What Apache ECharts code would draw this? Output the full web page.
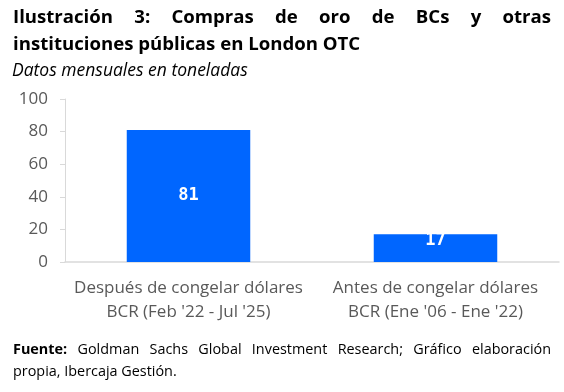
<!DOCTYPE html>
<html><head><meta charset="utf-8">
<script src="https://cdn.jsdelivr.net/npm/echarts@6/dist/echarts.min.js"></script>
<style>html,body{margin:0;padding:0;background:#fff}#c{width:564px;height:392px}</style>
</head><body><div id="c"></div>
<script>
const categories = ['Después de congelar dólares\nBCR (Feb \'22 - Jul \'25)', 'Antes de congelar dólares\nBCR (Ene \'06 - Ene \'22)'];
const values = [81, 17];
const yTicks = [0, 20, 40, 60, 80, 100];
const titleLine1 = 'Ilustración 3: Compras de oro de BCs y otras';
const titleLine2 = 'instituciones públicas en London OTC';
const subtitle = 'Datos mensuales en toneladas';
const sourceLabel = 'Fuente:';
const sourceLine1 = 'Goldman Sachs Global Investment Research; Gráfico elaboración';
const sourceLine2 = 'propia, Ibercaja Gestión.';

const ctx = document.createElement('canvas').getContext('2d');
function measure(t, font){ ctx.font = font; return ctx.measureText(t).width; }
function justify(words, x0, x1, y, font, style){
  const ws = words.map(w => measure(w.t, w.font || font));
  const total = ws.reduce((a,b)=>a+b,0);
  const gap = (x1 - x0 - total) / (words.length - 1);
  let x = x0; const out = [];
  words.forEach((w,i)=>{
    out.push({type:'text', left:x, top:y, style:Object.assign({text:w.t, font:w.font||font}, style)});
    x += ws[i] + gap;
  });
  return out;
}
const tFont = 'bold 18.6px "Open Sans"';
const sFont = '14.4px "Open Sans"';
const sBold = 'bold 14.4px "Open Sans"';
let graphics = [];
graphics = graphics.concat(justify(titleLine1.split(' ').map(t=>({t})), 13, 551, 8, tFont, {fill:'#000'}));
graphics.push({type:'text', left:13, top:35, style:{text:titleLine2, font:tFont, fill:'#000'}});
graphics.push({type:'text', left:12, top:62, style:{text:subtitle, font:'italic 17.5px "Open Sans"', fill:'#000'}});
const srcWords = [{t:sourceLabel, font:sBold}].concat(sourceLine1.split(' ').map(t=>({t})));
graphics = graphics.concat(justify(srcWords, 13, 551, 343, sFont, {fill:'#000'}));
graphics.push({type:'text', left:13, top:365, style:{text:sourceLine2, font:sFont, fill:'#000'}});

const chart = echarts.init(document.getElementById('c'), null, {renderer:'canvas'});
chart.setOption({
  animation:false,
  grid:{left:65, right:5, top:99, bottom:130},
  graphic: graphics,
  xAxis:{type:'category', data:categories,
    axisLine:{lineStyle:{color:'#d9d9d9', width:1.5}}, axisTick:{show:false},
    axisLabel:{interval:0, color:'#595959', fontFamily:'Open Sans', fontSize:17, lineHeight:24, margin:14}},
  yAxis:{type:'value', min:0, max:100, interval:20,
    axisLine:{show:true, lineStyle:{color:'#d9d9d9'}},
    axisTick:{show:true, length:5, lineStyle:{color:'#d9d9d9'}},
    splitLine:{show:false},
    axisLabel:{color:'#595959', fontFamily:'Open Sans', fontSize:17, margin:17,
      formatter:v => yTicks.includes(v) ? String(v) : ''}},
  series:[{type:'bar', data:values, barWidth:'50%', itemStyle:{color:'#0066FF'},
    label:{show:true, position:'inside', color:'#fff', fontFamily:'DejaVu Sans Mono', fontWeight:'bold', fontSize:17},
  }]
});
// second bar's label sits at the top of its short bar
chart.setOption({series:[{data:[values[0], {value:values[1], label:{position:'insideTop', distance:0, offset:[0,-2]}}]}]});
</script></body></html>
